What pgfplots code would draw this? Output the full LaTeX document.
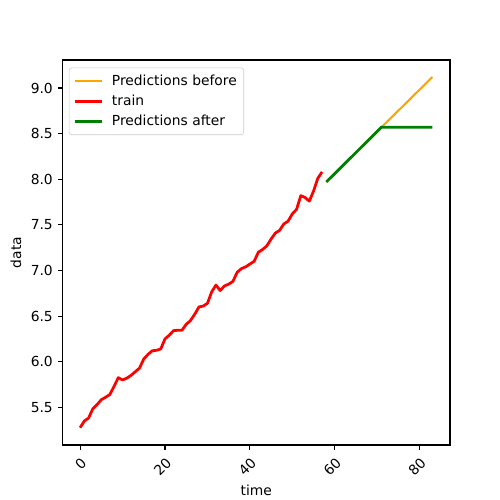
\documentclass[border=0pt]{standalone}
\usepackage{fontspec}
\setmainfont{DejaVu Sans}
\usepackage{pgfplots}
\pgfplotsset{compat=1.18}

\definecolor{mplorange}{HTML}{FFA500}
\definecolor{mplred}{HTML}{FF0000}
\definecolor{mplgreen}{HTML}{008000}

\begin{document}
\begin{tikzpicture}
\useasboundingbox (0,0) rectangle (360bp,360bp);

\begin{axis}[
  at={(45bp,39.6bp)},
  anchor=south west,
  scale only axis,
  width=279bp,
  height=277.2bp,
  xmin=-4.15, xmax=87.15,
  ymin=5.087, ymax=9.307,
  xtick={0,20,40,60,80},
  ytick={5.5,6.0,6.5,7.0,7.5,8.0,8.5,9.0},
  yticklabel style={
    /pgf/number format/fixed,
    /pgf/number format/fixed zerofill,
    /pgf/number format/precision=1,
    font=\fontsize{10}{12}\selectfont},
  /pgf/number format/assume math mode=true,
  xticklabel style={rotate=45, anchor=north east, font=\fontsize{10}{12}\selectfont},
  xlabel={time},
  ylabel={data},
  label style={font=\fontsize{10}{12}\selectfont},
  xlabel style={yshift=2.5bp},
  tick align=outside,
  xtick pos=bottom,
  ytick pos=left,
  major tick length=3.5pt,
  tick style={black, line width=0.8pt},
  axis line style={line width=0.8pt},
  legend cell align=left,
  legend style={
    at={(0,1)}, anchor=north west, xshift=4.5bp, yshift=-5.5bp,
    draw=black!20, rounded corners=2pt,
    font=\fontsize{10}{12}\selectfont,
    row sep=1.5bp, inner sep=3pt,
    /tikz/every odd column/.append style={column sep=4bp},
  },
  legend image code/.code={\draw[#1] (0pt,0pt) -- (20pt,0pt);},
]

% predictions before
\addplot [color=mplorange, line width=1.5pt] coordinates {
(58,7.97) (71,8.57) (83,9.12)
};
\addlegendentry{Predictions before}

% train
\addplot [color=mplred, line width=2pt, line join=round] table {
0 5.277
1 5.35
2 5.383
3 5.485
4 5.53
5 5.584
6 5.61
7 5.64
8 5.73
9 5.825
10 5.80
11 5.82
12 5.85
13 5.89
14 5.93
15 6.03
16 6.08
17 6.12
18 6.125
19 6.14
20 6.25
21 6.29
22 6.34
23 6.345
24 6.345
25 6.41
26 6.45
27 6.52
28 6.60
29 6.61
30 6.64
31 6.765
32 6.84
33 6.78
34 6.83
35 6.85
36 6.88
37 6.98
38 7.02
39 7.04
40 7.07
41 7.10
42 7.20
43 7.23
44 7.27
45 7.345
46 7.41
47 7.44
48 7.51
49 7.54
50 7.62
51 7.67
52 7.82
53 7.80
54 7.76
55 7.87
56 8.01
57 8.08
};
\addlegendentry{train}

% predictions after
\addplot [color=mplgreen, line width=2pt] coordinates {
(58,7.97) (71,8.57) (83,8.57)
};
\addlegendentry{Predictions after}

\end{axis}
\end{tikzpicture}
\end{document}
